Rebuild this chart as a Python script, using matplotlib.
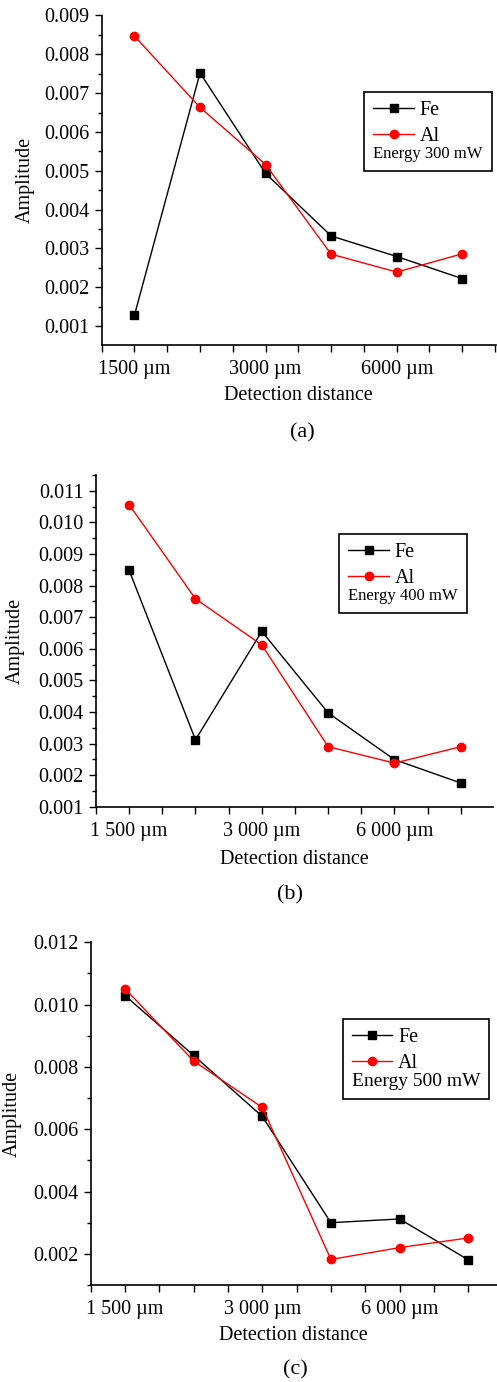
import matplotlib
matplotlib.use("Agg")
import matplotlib.pyplot as plt
from matplotlib.ticker import MultipleLocator, FixedLocator, FixedFormatter

plt.rcParams["font.family"] = ["Liberation Serif", "DejaVu Serif"]

# Detection positions (category index) and their labels
positions = [1, 2, 3, 4, 5, 6]
tick_pos = [1, 3, 5]
labels_a = ["1500 \u00b5m", "3000 \u00b5m", "6000 \u00b5m"]
labels_bc = ["1 500 \u00b5m", "3 000 \u00b5m", "6 000 \u00b5m"]

# Amplitudes at 300 mW
fe_300 = [0.00128, 0.00752, 0.00493, 0.00332, 0.00279, 0.00222]
al_300 = [0.00847, 0.00663, 0.00516, 0.00285, 0.00239, 0.00286]
# Amplitudes at 400 mW
fe_400 = [0.00848, 0.00312, 0.00655, 0.00397, 0.00249, 0.00175]
al_400 = [0.01056, 0.00758, 0.00612, 0.00290, 0.00238, 0.00290]
# Amplitudes at 500 mW
fe_500 = [0.01029, 0.00837, 0.00641, 0.00300, 0.00312, 0.00181]
al_500 = [0.01051, 0.00819, 0.00670, 0.00182, 0.00220, 0.00251]

W, H = 497, 1382
FS = 14.5
fig = plt.figure(figsize=(W / 100, H / 100), dpi=100)


def rect(left, right, top, bottom):
    return [left / W, 1 - bottom / H, (right - left) / W, (bottom - top) / H]


panels = [
    dict(box=(101.7, 495.7, 15.5, 345.0), xlim=(0.5, 6.51), ylim=(0.00051, 0.009),
         major=0.001, minor=0.0005, fmt="%.3f", fe=fe_300, al=al_300, xt=labels_a,
         energy="Energy 300 mW", efs=12, leg=(364.3, 91.7), tag="(a)",
         ylab_x=25.0, xlab_y=396.0, tag_y=433.0, tag_x=302.0),
    dict(box=(96.0, 493.3, 475.0, 806.7), xlim=(0.5, 6.49), ylim=(0.001, 0.0115),
         major=0.001, minor=0.0005, fmt="%.3f", fe=fe_400, al=al_400, xt=labels_bc,
         energy="Energy 400 mW", efs=12, leg=(339.3, 534.0), tag="(b)",
         ylab_x=15.0, xlab_y=859.3, tag_y=895.0, tag_x=290.0),
    dict(box=(90.7, 497.0, 942.3, 1285.0), xlim=(0.5, 6.42), ylim=(0.001, 0.012),
         major=0.002, minor=0.001, fmt="%.3f", fe=fe_500, al=al_500, xt=labels_bc,
         energy="Energy 500 mW", efs=14, leg=(342.7, 1019.0), tag="(c)",
         ylab_x=12.3, xlab_y=1335.0, tag_y=1370.0, tag_x=295.0),
]

for p in panels:
    l, r, t, b = p["box"]
    ax = fig.add_axes(rect(l, r, t, b))
    fe_line, = ax.plot(positions, p["fe"], color="black", lw=1.0, marker="s",
                       ms=5.5, label="Fe", zorder=3)
    al_line, = ax.plot(positions, p["al"], color="#ff0000", lw=1.0, marker="o",
                       ms=6.0, label="Al", zorder=4)
    ax.set_xlim(*p["xlim"])
    ax.set_ylim(*p["ylim"])
    for s in ("top", "right"):
        ax.spines[s].set_visible(False)
    for s in ("left", "bottom"):
        ax.spines[s].set_linewidth(1.2)

    ax.xaxis.set_major_locator(FixedLocator(tick_pos))
    ax.xaxis.set_major_formatter(FixedFormatter(p["xt"]))
    ax.xaxis.set_minor_locator(FixedLocator([x * 0.5 for x in range(1, 14) if x % 4 != 2]))
    ax.yaxis.set_major_locator(MultipleLocator(p["major"]))
    ax.yaxis.set_minor_locator(MultipleLocator(p["minor"]))
    ax.yaxis.set_major_formatter(plt.FormatStrFormatter(p["fmt"]))
    ax.tick_params(axis="both", which="both", direction="out", width=1.0,
                   labelsize=FS, colors="black")
    ax.tick_params(axis="y", which="major", length=5, pad=4)
    ax.tick_params(axis="y", which="minor", length=3)
    ax.tick_params(axis="x", which="both", length=5, pad=6)

    ax.set_ylabel("Amplitude", fontsize=FS)
    ax.yaxis.label.set_va("center")
    ax.yaxis.set_label_coords((p["ylab_x"] - l) / (r - l), 0.5)
    ax.set_xlabel("Detection distance", fontsize=FS)
    ax.xaxis.label.set_va("center")
    ax.xaxis.set_label_coords(0.5, -(p["xlab_y"] - b) / (b - t))
    fig.text(p["tag_x"] / W, 1 - p["tag_y"] / H, p["tag"], fontsize=16,
             ha="center", va="center")

    lx, ly = p["leg"]
    leg = ax.legend(handles=[fe_line, al_line], loc="upper left",
                    bbox_to_anchor=(lx / W, 1 - ly / H), bbox_transform=fig.transFigure,
                    fontsize=FS, title=p["energy"], title_fontsize=p["efs"],
                    alignment="left", fancybox=False, frameon=True,
                    edgecolor="black", framealpha=1.0, borderaxespad=0.0,
                    borderpad=0.45, labelspacing=0.35, handlelength=2.0,
                    handletextpad=0.3)
    leg.get_frame().set_linewidth(1.2)
    # put the energy note underneath the entries
    leg._legend_box._children.reverse()
    leg._legend_box.sep = 0

fig.savefig("out.png", dpi=100)
